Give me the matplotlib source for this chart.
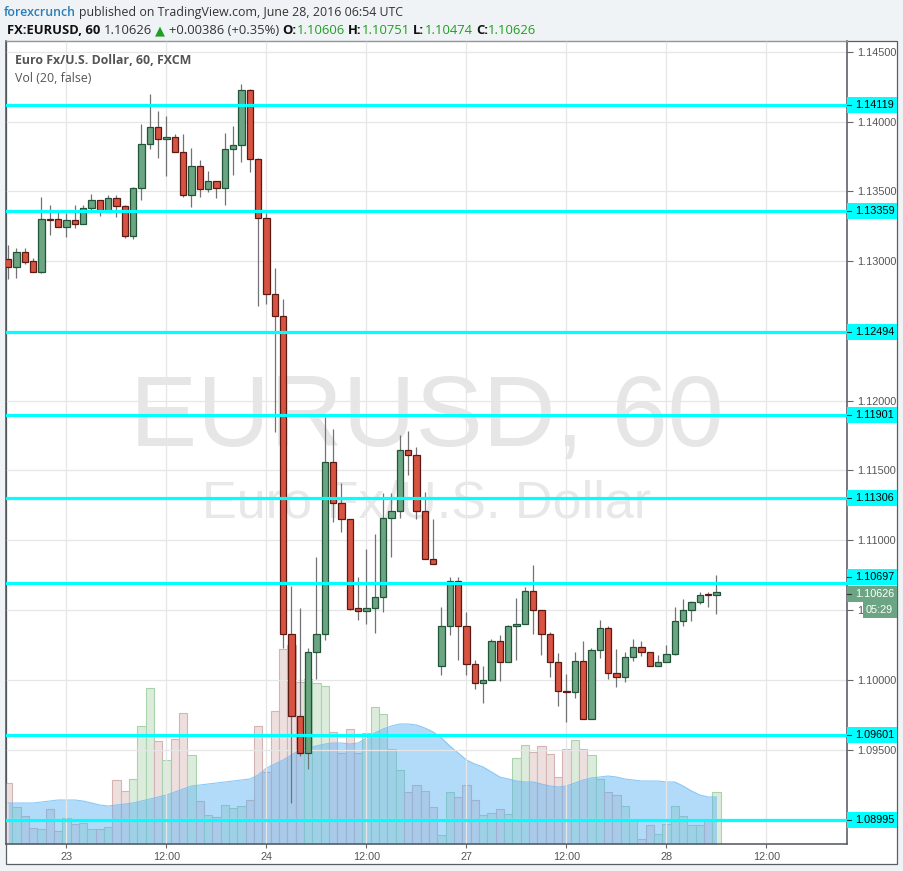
import matplotlib
matplotlib.use('Agg')
import matplotlib.pyplot as plt
import matplotlib.transforms as mtransforms
from matplotlib.patches import Rectangle
from matplotlib.ticker import FuncFormatter

W, H, DPI = 904, 871, 100

# ---------------- data (hourly bars, index = trading hours from 23 Jun 00:00) ----------------
bar_index = list(range(-7, 79))
opens = [1.13015, 1.12958, 1.13065, 1.13001, 1.12922, 1.13302, 1.13302,
         1.13244, 1.13295, 1.13266, 1.13381, 1.13438, 1.13352, 1.13452, 1.13395, 1.13180, 1.13524,
         1.13840, 1.13961, 1.13875, 1.13890, 1.13782, 1.13474, 1.13682, 1.13517, 1.13574, 1.13524,
         1.13804, 1.13832, 1.14226, 1.13732,
         1.13309, 1.12764, 1.12607, 1.10328, 1.09740, 1.09475, 1.10199, 1.10328, 1.11560, 1.11267,
         1.11152, 1.10514, 1.10493, 1.10514, 1.10593, 1.11159, 1.11209, 1.11646, 1.11611, 1.11209,
         1.10865,
         1.10098, 1.10385, 1.10708,
         1.10385, 1.10113, 1.09977, 1.09998, 1.10278, 1.10127, 1.10385, 1.10399, 1.10636, 1.10500,
         1.10328, 1.10127, 1.09919, 1.09912, 1.10134, 1.09719, 1.10213, 1.10371, 1.10048, 1.10020,
         1.10163, 1.10235, 1.10199, 1.10098,
         1.10127, 1.10184, 1.10421, 1.10500, 1.10557, 1.10612, 1.10606]
highs = [1.13115, 1.13094, 1.13094, 1.13022, 1.13460, 1.13402, 1.13366,
         1.13345, 1.13402, 1.13402, 1.13481, 1.13438, 1.13474, 1.13474, 1.13402, 1.13531, 1.13983,
         1.14198, 1.14076, 1.14040, 1.13911, 1.13911, 1.13811, 1.13725, 1.13646, 1.13574, 1.13918,
         1.13968, 1.14270, 1.14234, 1.13739,
         1.13345, 1.12951, 1.12728, 1.10672, 1.10514, 1.10227, 1.10880, 1.11883, 1.11797, 1.11410,
         1.11152, 1.10736, 1.10937, 1.11044, 1.11338, 1.11338, 1.11754, 1.11783, 1.11668, 1.11345,
         1.11152,
         1.10521, 1.10736, 1.10736,
         1.10485, 1.10141, 1.10098, 1.10292, 1.10321, 1.10392, 1.10586, 1.10665, 1.10822, 1.10500,
         1.10342, 1.10192, 1.10041, 1.10199, 1.10278, 1.10227, 1.10428, 1.10385, 1.10220, 1.10199,
         1.10292, 1.10278, 1.10199, 1.10177,
         1.10249, 1.10521, 1.10579, 1.10564, 1.10629, 1.10629, 1.10751]
lows = [1.12872, 1.12879, 1.12979, 1.12922, 1.12915, 1.13187, 1.13244,
        1.13173, 1.13237, 1.13266, 1.13366, 1.13323, 1.13352, 1.13316, 1.13166, 1.13158, 1.13438,
        1.13804, 1.13739, 1.13610, 1.13782, 1.13460, 1.13388, 1.13460, 1.13496, 1.13452, 1.13402,
        1.13617, 1.13711, 1.13639, 1.12678,
        1.12693, 1.11775, 1.10227, 1.09117, 1.09454, 1.09360, 1.10005, 1.10285, 1.11130, 1.11059,
        1.10500, 1.10428, 1.10399, 1.10335, 1.10485, 1.10880, 1.11159, 1.11467, 1.11152, 1.10865,
        1.10829,
        1.10034, 1.10321, 1.10141,
        1.10034, 1.09934, 1.09833, 1.09998, 1.09991, 1.10127, 1.10141, 1.10399, 1.10328, 1.10177,
        1.10020, 1.09812, 1.09697, 1.09869, 1.09719, 1.09719, 1.10156, 1.10005, 1.09948, 1.09984,
        1.10134, 1.10170, 1.10098, 1.10098,
        1.10127, 1.10177, 1.10385, 1.10421, 1.10543, 1.10521, 1.10474]
closes = [1.12958, 1.13065, 1.12994, 1.12922, 1.13302, 1.13298, 1.13244,
          1.13295, 1.13266, 1.13381, 1.13438, 1.13359, 1.13452, 1.13395, 1.13180, 1.13524, 1.13840,
          1.13961, 1.13875, 1.13890, 1.13782, 1.13474, 1.13682, 1.13517, 1.13574, 1.13524, 1.13804,
          1.13832, 1.14226, 1.13732, 1.13309,
          1.12764, 1.12607, 1.10328, 1.09740, 1.09475, 1.10199, 1.10328, 1.11560, 1.11267, 1.11152,
          1.10507, 1.10493, 1.10514, 1.10593, 1.11159, 1.11209, 1.11646, 1.11611, 1.11209, 1.10865,
          1.10829,
          1.10385, 1.10708, 1.10385,
          1.10113, 1.09977, 1.09998, 1.10278, 1.10127, 1.10385, 1.10399, 1.10636, 1.10500, 1.10328,
          1.10127, 1.09919, 1.09912, 1.10134, 1.09719, 1.10213, 1.10371, 1.10048, 1.10020, 1.10163,
          1.10235, 1.10199, 1.10098, 1.10127,
          1.10184, 1.10421, 1.10500, 1.10557, 1.10607, 1.10606, 1.10626]
volumes = [61, 37, 28, 16, 15, 35, 13,
           26, 20, 21, 15, 15, 17, 64, 53, 65, 118,
           156, 103, 84, 105, 131, 89, 43, 29, 27, 39,
           36, 38, 44, 118,
           72, 133, 195, 199, 162, 165, 161, 158, 112, 91,
           115, 91, 111, 137, 130, 95, 74, 52, 59, 53,
           37,
           9, 52, 47,
           59, 44, 29, 31, 35, 30, 86, 99, 92, 98,
           90, 67, 95, 104, 95, 89, 65, 52, 49, 38,
           24, 5, 19, 10,
           20, 38, 28, 19, 19, 24, 52]
vol_ma = [41, 41, 41, 41, 42, 43, 44,
          44, 44, 43, 41, 39, 38, 39, 40, 41, 43,
          45, 47, 49, 52, 55, 58, 59, 60, 61, 62,
          63, 64, 65, 69,
          76, 80, 84, 89, 94, 96, 98, 100, 101, 101,
          100, 101, 106, 111, 115, 118, 120, 120, 119, 116,
          112,
          106, 98, 91,
          84, 80, 77, 72, 67, 65, 63, 62, 62, 60,
          58, 57, 58, 61, 64, 66, 67, 68, 67, 65,
          64, 63, 63, 63,
          62, 62, 58, 53, 49, 47, 47]
levels = [1.14119, 1.13359, 1.12494, 1.11901, 1.11306, 1.10697, 1.09601, 1.08995]
price_ticks = [1.09000, 1.09500, 1.10000, 1.10500, 1.11000, 1.11500, 1.12000,
               1.12500, 1.13000, 1.13500, 1.14000, 1.14500]
hidden_ticks = [1.09000, 1.12500]   # covered by level labels in the reference
time_ticks = [0, 12, 24, 36, 48, 60, 72, 84]
time_labels = ['23', '12:00', '24', '12:00', '27', '12:00', '28', '12:00']
last_price = 1.10626
countdown = '05:29'

# ---------------- colours ----------------
UP_FILL, UP_EDGE = '#6ba583', '#225437'
DN_FILL, DN_EDGE = '#d75442', '#5b1a13'
WICK = '#737375'
VUP_FILL, VUP_EDGE = '#dcecdc', '#a9d2ad'
VDN_FILL, VDN_EDGE = '#eedfdf', '#d4b3b3'
CYAN = '#00ffff'
GRID = '#e6e6e6'
AXIS_TXT = '#555555'

# ---------------- layout ----------------
PL, PR, PT, PB = 6, 847, 41, 844          # plot area (px)
BOX_R, BOX_B = 897, 864                   # outer chart box (px)
PRICE_MIN, PRICE_MAX = 1.08823, 1.14578
X_MIN, X_MAX = -7.26, 93.66

fig = plt.figure(figsize=(W / DPI, H / DPI), dpi=DPI)
fig.patch.set_facecolor('#f0f3f6')
fig.add_artist(Rectangle((PL / W, (H - BOX_B) / H), (BOX_R - PL) / W, (BOX_B - PT) / H,
                         transform=fig.transFigure, facecolor='white',
                         edgecolor='#5a5f66', lw=0.9, zorder=-5))

ax = fig.add_axes([PL / W, (H - PB) / H, (PR - PL) / W, (PB - PT) / H])
axv = ax.twinx()
ax.set_zorder(axv.get_zorder() + 1)
ax.patch.set_visible(False)
axv.patch.set_visible(False)

# ---------------- volume pane ----------------
vcol = [VUP_FILL if c >= o else VDN_FILL for o, c in zip(opens, closes)]
vedge = [VUP_EDGE if c >= o else VDN_EDGE for o, c in zip(opens, closes)]
axv.bar(bar_index, volumes, width=1.0, color=vcol, edgecolor=vedge, linewidth=0.8, zorder=1)
axv.fill_between(bar_index, 0, vol_ma, color='#56b1f4', alpha=0.45, linewidth=0, zorder=2)
axv.plot(bar_index, vol_ma, color='#6fbcf5', lw=0.8, alpha=0.8, zorder=3)
axv.set_ylim(0, PB - PT)
axv.set_yticks([])
for s in axv.spines.values():
    s.set_visible(False)

# ---------------- watermark ----------------
ax.text(0.5, (PB - 446) / (PB - PT), 'EURUSD, 60', transform=ax.transAxes, ha='center',
        va='baseline', fontsize=72.5, color='#e6e6e6', family='Liberation Sans', zorder=1)
ax.text(0.5, (PB - 517) / (PB - PT), 'Euro Fx/U.S. Dollar', transform=ax.transAxes, ha='center',
        va='baseline', fontsize=37.5, color='#e8e8e8', family='Liberation Sans', zorder=1)

# ---------------- candles ----------------
bottoms = [min(o, c) for o, c in zip(opens, closes)]
heights = [max(abs(c - o), 0.000008) for o, c in zip(opens, closes)]
fills = [UP_FILL if c >= o else DN_FILL for o, c in zip(opens, closes)]
edges = [UP_EDGE if c >= o else DN_EDGE for o, c in zip(opens, closes)]
ax.vlines(bar_index, lows, highs, color=WICK, lw=0.9, zorder=4)
ax.bar(bar_index, heights, bottom=bottoms, width=0.74, color=fills, edgecolor=edges,
       linewidth=0.9, zorder=5)

# ---------------- horizontal levels ----------------
for lv in levels:
    ax.axhline(lv, color=CYAN, lw=2.3, zorder=6)

# ---------------- axes cosmetics ----------------
ax.set_xlim(X_MIN, X_MAX)
ax.set_ylim(PRICE_MIN, PRICE_MAX)
ax.set_xticks(time_ticks)
ax.set_xticklabels(time_labels)
ax.set_yticks(price_ticks)

def price_fmt(v, pos):
    if any(abs(v - h) < 1e-7 for h in hidden_ticks):
        return ''
    return f'{v:.5f}'

ax.yaxis.set_major_formatter(FuncFormatter(price_fmt))
ax.yaxis.tick_right()
ax.tick_params(axis='y', right=True, left=False, labelright=True, labelleft=False,
               length=4, width=0.8, color='#666666', labelcolor=AXIS_TXT, labelsize=7.8, pad=3)
ax.tick_params(axis='x', length=3, width=0.8, color='#666666', labelcolor=AXIS_TXT,
               labelsize=7.8, pad=3)
for lab in ax.get_xticklabels() + ax.get_yticklabels():
    lab.set_family('Liberation Sans')
ax.grid(True, color=GRID, lw=0.9)
ax.set_axisbelow(True)
for side in ['left', 'bottom', 'right']:
    ax.spines[side].set_color('#50555c')
    ax.spines[side].set_linewidth(1.1)
ax.spines['top'].set_color('#9aa0a6')
ax.spines['top'].set_linewidth(0.6)

# ---------------- price-scale labels ----------------
ppx = (PRICE_MAX - PRICE_MIN) / (PB - PT)
trans = mtransforms.blended_transform_factory(ax.transAxes, ax.transData)
sw = (BOX_R - PR) / (PR - PL)
apx = 1.0 / (PR - PL)

def scale_label(yc, text, fc, tc, x0_px=0, tx_px=8, tick_y=None):
    ax.add_patch(Rectangle((1.0 + x0_px * apx, yc - 8 * ppx), sw - x0_px * apx, 16 * ppx,
                           transform=trans, facecolor=fc, edgecolor='none',
                           clip_on=False, zorder=7))
    ax.text(1.0 + tx_px * apx, yc, text, transform=trans, ha='left', va='center',
            fontsize=7.8, color=tc, family='Liberation Sans', clip_on=False, zorder=8)
    ty = yc if tick_y is None else tick_y
    ax.plot([1.0, 1.0 + 4 * apx], [ty, ty], transform=trans, color='#333333', lw=0.8,
            clip_on=False, zorder=8)

for lv in levels:
    yc = lv + 6 * ppx if lv == 1.10697 else lv
    scale_label(yc, f'{lv:.5f}', CYAN, 'black', tick_y=yc)
scale_label(last_price - 1.5 * ppx, f'{last_price:.5f}', '#6ba583', 'white')
ax.add_patch(Rectangle((1.0 + 16 * apx, last_price - 26 * ppx), sw - 16 * apx, 16 * ppx,
                       transform=trans, facecolor='#6ba583', edgecolor='none',
                       clip_on=False, zorder=7))
ax.text(1.0 + 19 * apx, last_price - 18 * ppx, countdown, transform=trans, ha='left',
        va='center', fontsize=7.8, color='white', family='Liberation Sans',
        clip_on=False, zorder=8)

# ---------------- header texts ----------------
renderer = fig.canvas.get_renderer()
FAM = ['Open Sans', 'DejaVu Sans']

def text_w(s, size, weight='normal'):
    t = fig.text(0, 0, s, fontsize=size, fontweight=weight, family=FAM)
    w = t.get_window_extent(renderer=renderer).width
    t.remove()
    return w

def run_width(pieces, size):
    sp = text_w('a a', size) - text_w('aa', size)
    total = 0
    for txt, col, wt in pieces:
        total += sp if txt == ' ' else text_w(txt, size, wt)
    return total

def draw_run(x0, y, pieces, target_w):
    size = 10 * target_w / run_width(pieces, 10)
    sp = text_w('a a', size) - text_w('aa', size)
    x = x0
    for txt, col, wt in pieces:
        if txt == ' ':
            x += sp
            continue
        t = fig.text(x / W, 1 - y / H, txt, fontsize=size, fontweight=wt, color=col,
                     family=FAM, ha='left', va='center')
        x += t.get_window_extent(renderer=renderer).width
    return size

DARK, GRN = '#333333', '#1f9e1f'
draw_run(4, 12.5, [('forexcrunch', '#2a7db8', 'semibold'), (' ', None, None),
                   ('published on TradingView.com, June 28, 2016 06:54 UTC', DARK, 'normal')], 400)
draw_run(7, 30.5, [('FX:EURUSD, 60', '#111111', 'bold'), (' ', None, None),
                   ('1.10626', DARK, 'normal'), (' ', None, None),
                   ('▲', GRN, 'normal'), (' ', None, None),
                   ('+0.00386 (+0.35%)', DARK, 'normal'), (' ', None, None),
                   ('O:', '#111111', 'bold'), ('1.10606', GRN, 'normal'), (' ', None, None),
                   ('H:', '#111111', 'bold'), ('1.10751', GRN, 'normal'), (' ', None, None),
                   ('L:', '#111111', 'bold'), ('1.10474', GRN, 'normal'), (' ', None, None),
                   ('C:', '#111111', 'bold'), ('1.10626', GRN, 'normal')], 529)
tsize = draw_run(15, 61, [('Euro Fx/U.S. Dollar, 60, FXCM', '#555555', 'bold')], 176)
fig.text(15 / W, 1 - 78 / H, 'Vol (20, false)', fontsize=tsize, color='#555555',
         family=FAM, ha='left', va='center')

fig.savefig('out.png', dpi=DPI, facecolor=fig.get_facecolor())
